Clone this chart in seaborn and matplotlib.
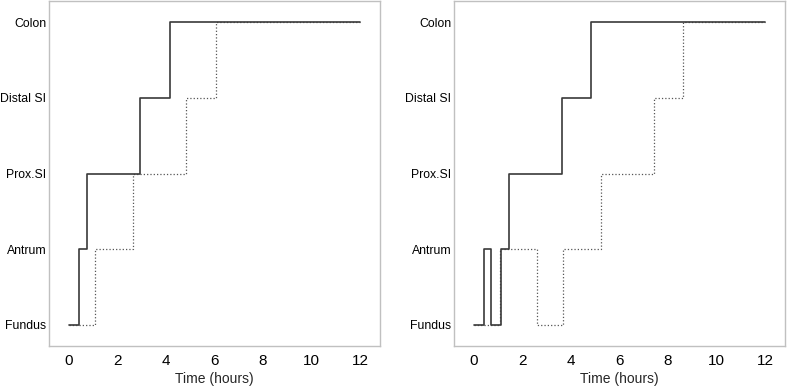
import matplotlib
matplotlib.use("Agg")
import matplotlib.pyplot as plt
import seaborn as sns
import pandas as pd

# Data
sites = ["Fundus", "Antrum", "Prox.SI", "Distal SI", "Colon"]
x_ticks = [0, 2, 4, 6, 8, 10, 12]

left_solid_t = [0, 0.43, 0.75, 2.93, 4.16, 12]
left_solid_lv = [1, 2, 3, 4, 5, 5]
left_dot_t = [0, 1.09, 2.65, 4.82, 6.06, 12]
left_dot_lv = [1, 2, 3, 4, 5, 5]

right_solid_t = [0, 0.41, 0.71, 1.11, 1.44, 3.61, 4.82, 12]
right_solid_lv = [1, 2, 1, 2, 3, 4, 5, 5]
right_dot_t = [0, 1.06, 2.61, 3.68, 5.24, 7.43, 8.63, 12]
right_dot_lv = [1, 2, 1, 2, 3, 4, 5, 5]

sns.set_style("white")
plt.rcParams["font.family"] = ["Liberation Sans", "DejaVu Sans"]

fig = plt.figure(figsize=(7.87, 3.86), dpi=100)
ax1 = fig.add_axes([49/787, 1-346/386, 331/787, 345/386])
ax2 = fig.add_axes([454/787, 1-346/386, 331/787, 345/386])

panels = [
    (ax1, left_solid_t, left_solid_lv, left_dot_t, left_dot_lv),
    (ax2, right_solid_t, right_solid_lv, right_dot_t, right_dot_lv),
]
for ax, st, sl, dt, dl in panels:
    dfd = pd.DataFrame({"t": dt, "lv": dl})
    dfs = pd.DataFrame({"t": st, "lv": sl})
    sns.lineplot(data=dfd, x="t", y="lv", ax=ax, drawstyle="steps-post",
                 estimator=None, sort=False, color="#555555", linestyle=":",
                 linewidth=0.9)
    sns.lineplot(data=dfs, x="t", y="lv", ax=ax, drawstyle="steps-post",
                 estimator=None, sort=False, color="#3a3a3a", linestyle="-",
                 linewidth=1.2)
    ax.set_xlim(-0.82, 12.82)
    ax.set_ylim(0.72, 5.28)
    ax.set_xticks(x_ticks)
    ax.set_xticklabels([str(v) for v in x_ticks], fontsize=11)
    ax.set_yticks(range(1, len(sites) + 1))
    ax.set_yticklabels(sites, fontsize=8.8)
    ax.tick_params(axis="y", length=0, pad=2, colors="black")
    ax.tick_params(axis="x", length=0, pad=6, colors="black")
    ax.set_xlabel("Time (hours)", fontsize=10, labelpad=3)
    ax.set_ylabel("")
    for sp in ax.spines.values():
        sp.set_color("#c0c0c0")
        sp.set_linewidth(1.0)

fig.savefig("out.png", dpi=100)
